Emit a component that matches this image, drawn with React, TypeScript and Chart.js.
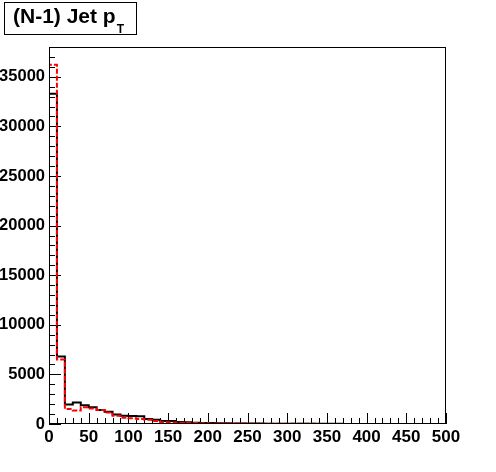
import React, { useEffect, useRef } from "react";
import { Chart, registerables } from "chart.js";

Chart.register(...registerables);

// Histogram bin low edges (GeV), bin width 10
const binLowEdges = [
  0, 10, 20, 30, 40, 50, 60, 70, 80, 90,
  100, 110, 120, 130, 140, 150, 160, 170, 180, 190,
  200, 210, 220, 230, 240, 250, 260, 270, 280, 290,
  300, 310, 320, 330, 340, 350, 360, 370, 380, 390,
  400, 410, 420, 430, 440, 450, 460, 470, 480, 490,
];
const xUpperEdge = 500;

// Black solid histogram
const blackCounts = [
  33300, 6800, 1970, 2170, 1900, 1700, 1400, 1230, 970, 830,
  800, 780, 500, 430, 300, 300, 200, 170, 130, 110,
  90, 80, 70, 60, 50, 45, 40, 35, 30, 30,
  25, 25, 20, 20, 15, 15, 15, 10, 10, 10,
  10, 8, 8, 6, 6, 5, 5, 4, 4, 3,
];

// Red dashed histogram
const redCounts = [
  36200, 6500, 1500, 1370, 1700, 1570, 1400, 1170, 830, 630,
  570, 500, 430, 300, 170, 150, 130, 110, 90, 70,
  60, 55, 50, 45, 40, 35, 30, 30, 25, 25,
  20, 20, 15, 15, 12, 12, 10, 10, 8, 8,
  6, 6, 5, 5, 4, 4, 3, 3, 2, 2,
];

// Axis labels
const xTickLabels = [0, 50, 100, 150, 200, 250, 300, 350, 400, 450, 500];
const yTickLabels = [0, 5000, 10000, 15000, 20000, 25000, 30000, 35000];

const yMax = 38000;
const yMajorStep = 5000;
const yMinorStep = 1000;
const xMajorStep = 50;
const xMinorStep = 10;

const FONT_FAMILY = "'Liberation Sans', Arial, Helvetica, sans-serif";

function toSteps(counts: number[]) {
  const pts: { x: number; y: number }[] = [{ x: binLowEdges[0], y: 0 }];
  counts.forEach((c, i) => pts.push({ x: binLowEdges[i], y: c }));
  pts.push({ x: xUpperEdge, y: counts[counts.length - 1] });
  return pts;
}

const rootFramePlugin = {
  id: "rootFrame",
  beforeDatasetsDraw(chart: any) {
    const { ctx, chartArea } = chart;
    const xs = chart.scales.x;
    const ys = chart.scales.y;
    ctx.save();
    ctx.strokeStyle = "#000";
    ctx.lineWidth = 1;
    ctx.beginPath();
    for (let v = xs.min; v <= xs.max + 1e-9; v += xMinorStep) {
      const px = Math.round(xs.getPixelForValue(v)) + 0.5;
      const major = Math.abs(v % xMajorStep) < 1e-9;
      const len = major ? 11 : 6;
      ctx.moveTo(px, chartArea.bottom);
      ctx.lineTo(px, chartArea.bottom - len);
    }
    for (let v = ys.min; v <= ys.max + 1e-9; v += yMinorStep) {
      const py = Math.round(ys.getPixelForValue(v)) + 0.5;
      const major = Math.abs(v % yMajorStep) < 1e-9;
      const len = major ? 12 : 6;
      ctx.moveTo(chartArea.left, py);
      ctx.lineTo(chartArea.left + len, py);
    }
    ctx.stroke();
    ctx.restore();
  },
  afterDatasetsDraw(chart: any) {
    const { ctx, chartArea } = chart;
    ctx.save();
    ctx.strokeStyle = "#000";
    ctx.lineWidth = 1;
    ctx.strokeRect(
      Math.round(chartArea.left) + 0.5,
      Math.round(chartArea.top) + 0.5,
      Math.round(chartArea.right - chartArea.left) - 1,
      Math.round(chartArea.bottom - chartArea.top) - 1
    );
    ctx.restore();
  },
};

export default function App() {
  const canvasRef = useRef<HTMLCanvasElement | null>(null);

  useEffect(() => {
    document.body.style.margin = "0";
    const canvas = canvasRef.current;
    if (!canvas) return;
    const chart = new Chart(canvas, {
      type: "line",
      data: {
        datasets: [
          {
            label: "black",
            data: toSteps(blackCounts),
            stepped: "before",
            borderColor: "#000000",
            borderWidth: 2,
            pointRadius: 0,
            fill: false,
            order: 2,
          },
          {
            label: "red",
            data: toSteps(redCounts),
            stepped: "before",
            borderColor: "#ff0000",
            borderWidth: 2,
            borderDash: [5, 2],
            pointRadius: 0,
            fill: false,
            order: 1,
          },
        ],
      },
      options: {
        animation: false,
        responsive: false,
        maintainAspectRatio: false,
        events: [],
        layout: { padding: { top: 47, right: 50, left: 0, bottom: 0 } },
        plugins: {
          legend: { display: false },
          tooltip: { enabled: false },
          title: { display: false },
        },
        scales: {
          x: {
            type: "linear",
            min: 0,
            max: xUpperEdge,
            border: { display: false },
            grid: { display: false, drawTicks: false },
            ticks: {
              color: "#000",
              font: { family: FONT_FAMILY, size: 17, weight: "bold" },
              padding: 3,
              maxRotation: 0,
              autoSkip: false,
              callback: (v: any) => String(v),
            },
            afterBuildTicks: (s: any) => {
              s.ticks = xTickLabels.map((v) => ({ value: v }));
            },
            afterFit: (s: any) => {
              s.height = 48;
            },
          },
          y: {
            type: "linear",
            min: 0,
            max: yMax,
            border: { display: false },
            grid: { display: false, drawTicks: false },
            ticks: {
              color: "#000",
              font: { family: FONT_FAMILY, size: 16.5, weight: "bold" },
              padding: 4,
              autoSkip: false,
              callback: (v: any) => String(v),
            },
            afterBuildTicks: (s: any) => {
              s.ticks = yTickLabels.map((v) => ({ value: v }));
            },
            afterFit: (s: any) => {
              s.width = 49;
            },
          },
        },
      },
      plugins: [rootFramePlugin],
    });
    return () => chart.destroy();
  }, []);

  return (
    <div style={{ position: "fixed", left: 0, top: 0, width: 496, height: 472, background: "#fff" }}>
      <canvas ref={canvasRef} width={496} height={472} style={{ display: "block" }} />
      <div
        style={{
          position: "absolute",
          left: 4,
          top: 2,
          width: 131,
          height: 31,
          border: "1px solid #000",
          background: "#fff",
          boxSizing: "content-box",
          fontFamily: FONT_FAMILY,
          fontWeight: "bold",
          color: "#000",
          whiteSpace: "nowrap",
        }}
      >
        <span
          style={{
            position: "absolute",
            left: 8,
            top: 2,
            fontSize: 21,
            lineHeight: "21px",
          }}
        >
          (N-1) Jet p
          <span style={{ position: "relative", top: 10, fontSize: 12, marginLeft: 1 }}>T</span>
        </span>
      </div>
    </div>
  );
}
